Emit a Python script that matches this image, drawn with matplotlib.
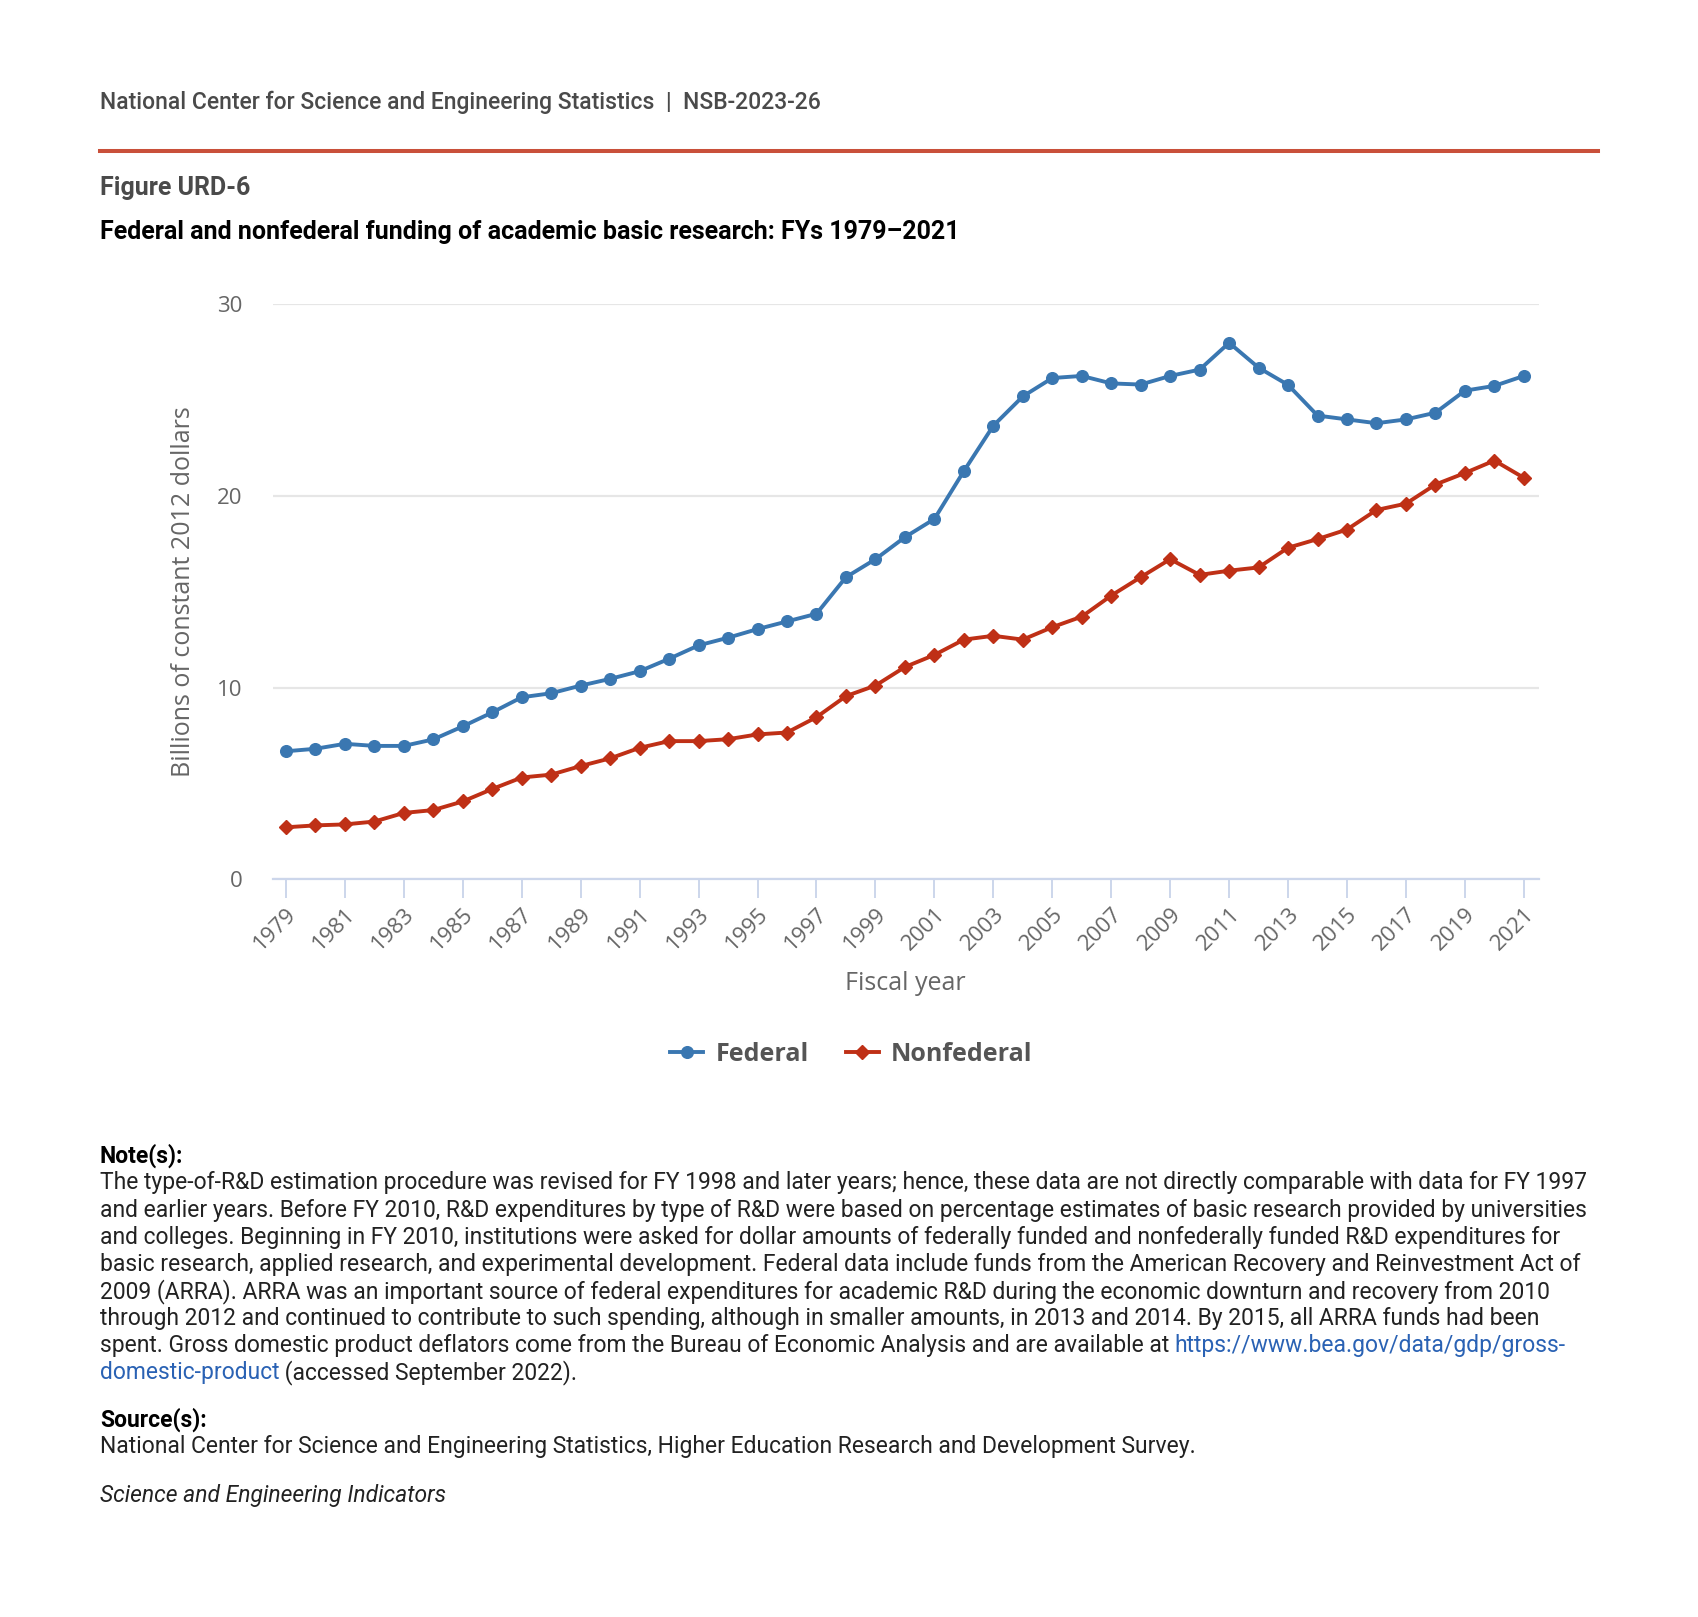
import matplotlib
matplotlib.use("Agg")
import matplotlib.pyplot as plt
from matplotlib.ticker import FixedLocator

# data (billions of constant 2012 dollars)
years = list(range(1979, 2022))
federal = [6.67, 6.80, 7.06, 6.95, 6.95, 7.29, 7.97, 8.70, 9.49, 9.70,
           10.10, 10.45, 10.85, 11.50, 12.20, 12.60, 13.05, 13.45, 13.85, 15.76,
           16.70, 17.85, 18.80, 21.30, 23.67, 25.20, 26.16, 26.27, 25.88, 25.82,
           26.27, 26.60, 28.00, 26.70, 25.80, 24.20, 24.00, 23.80, 24.00, 24.35,
           25.50, 25.75, 26.27]
nonfederal = [2.70, 2.80, 2.85, 3.00, 3.45, 3.60, 4.05, 4.70, 5.30, 5.45,
              5.90, 6.30, 6.85, 7.20, 7.20, 7.30, 7.55, 7.65, 8.45, 9.55,
              10.10, 11.07, 11.70, 12.50, 12.70, 12.50, 13.15, 13.70, 14.80, 15.76,
              16.70, 15.88, 16.10, 16.27, 17.30, 17.75, 18.25, 19.27, 19.60, 20.60,
              21.20, 21.85, 20.95]
tick_years = list(range(1979, 2022, 2))
y_ticks = [0, 10, 20, 30]

W, H = 1699, 1617
fig = plt.figure(figsize=(W / 100, H / 100), dpi=100)


def fy(px):
    # pixel row from top -> figure fraction
    return 1 - (px + 2.5) / H


def fx(px):
    return px / W


BLUE = "#3a77b1"
RED = "#bf3016"

# header
fig.text(fx(100), fy(99.5), "National Center for Science and Engineering Statistics  |  NSB-2023-26",
         family="Roboto", fontweight="medium", fontsize=16.5, color="#4a4a4a", va="center")
fig.add_artist(plt.Line2D([fx(100), fx(1598)], [fy(149), fy(149)], color="#c9503a", lw=2.9))
fig.text(fx(100), fy(185), "Figure URD-6", family="Roboto", fontweight="bold",
         fontsize=18, color="#4a4a4a", va="center")
fig.text(fx(100), fy(229), "Federal and nonfederal funding of academic basic research: FYs 1979\u20132021",
         family="Roboto", fontweight="bold", fontsize=18, color="black", va="center")

# chart
ax = fig.add_axes([fx(272.7), fy(876.5), fx(1538.6) - fx(272.7), fy(302) - fy(876.5)])
ax.plot(years, federal, color=BLUE, lw=2.8, marker="o", ms=8.4, label="Federal", zorder=3)
ax.plot(years, nonfederal, color=RED, lw=2.8, marker="D", ms=6.8, label="Nonfederal", zorder=3)

ax.set_xlim(1978.55, 2021.5)
ax.set_ylim(0, 30)
ax.yaxis.set_major_locator(FixedLocator(y_ticks))
ax.xaxis.set_major_locator(FixedLocator(tick_years))
ax.grid(axis="y", color="#e6e6e6", lw=1.6)
ax.set_axisbelow(True)
for s in ["top", "right", "left"]:
    ax.spines[s].set_visible(False)
ax.spines["bottom"].set_color("#ccd6eb")
ax.spines["bottom"].set_linewidth(1.6)

ax.tick_params(axis="y", length=0, pad=22, labelsize=16, labelcolor="#666666")
ax.tick_params(axis="x", length=13.5, width=1.4, color="#ccd6eb", pad=4,
               labelsize=16, labelcolor="#666666")
for lab in ax.get_yticklabels() + ax.get_xticklabels():
    lab.set_family("Open Sans")
for lab in ax.get_xticklabels():
    lab.set_rotation(45)
    lab.set_ha("right")
    lab.set_rotation_mode("anchor")

ax.set_ylabel("Billions of constant 2012 dollars", family="Open Sans", fontsize=18,
              color="#666666", labelpad=15)
ax.set_xlabel("Fiscal year", family="Open Sans", fontsize=18, color="#666666", labelpad=12)

leg = fig.legend(loc="center", bbox_to_anchor=(fx(851.5), fy(1052)), ncol=2, frameon=False,
                 handlelength=1.3, columnspacing=1.5, handletextpad=0.5,
                 prop={"family": "Open Sans", "weight": "bold", "size": 18})
for t in leg.get_texts():
    t.set_color("#555555")

# notes
note_lines = [
    "The type-of-R&D estimation procedure was revised for FY 1998 and later years; hence, these data are not directly comparable with data for FY 1997",
    "and earlier years. Before FY 2010, R&D expenditures by type of R&D were based on percentage estimates of basic research provided by universities",
    "and colleges. Beginning in FY 2010, institutions were asked for dollar amounts of federally funded and nonfederally funded R&D expenditures for",
    "basic research, applied research, and experimental development. Federal data include funds from the American Recovery and Reinvestment Act of",
    "2009 (ARRA). ARRA was an important source of federal expenditures for academic R&D during the economic downturn and recovery from 2010",
    "through 2012 and continued to contribute to such spending, although in smaller amounts, in 2013 and 2014. By 2015, all ARRA funds had been",
]
link_a = "https://www.bea.gov/data/gdp/gross-"
link_b = "domestic-product"
NOTE_FS = 16.5
note_kw = dict(family="Roboto", fontsize=NOTE_FS, va="center")

fig.text(fx(100), fy(1153), "Note(s):", family="Roboto", fontweight="bold",
         fontsize=NOTE_FS, va="center", color="black")
y0, dy = 1180.5, 27.05
for i, line in enumerate(note_lines):
    fig.text(fx(100), fy(y0 + i * dy), line, color="#222222", **note_kw)

renderer = fig.canvas.get_renderer()
t1 = fig.text(fx(100), fy(y0 + 6 * dy),
              "spent. Gross domestic product deflators come from the Bureau of Economic Analysis and are available at ",
              color="#222222", **note_kw)
x1 = t1.get_window_extent(renderer).x1
fig.text(x1 / W, fy(y0 + 6 * dy), link_a, color="#2a62b4", **note_kw)
t2 = fig.text(fx(100), fy(y0 + 7 * dy), link_b, color="#2a62b4", **note_kw)
x2 = t2.get_window_extent(renderer).x1
fig.text(x2 / W, fy(y0 + 7 * dy), " (accessed September 2022).", color="#222222", **note_kw)

fig.text(fx(100), fy(1417), "Source(s):", family="Roboto", fontweight="bold",
         fontsize=NOTE_FS, va="center", color="black")
fig.text(fx(100), fy(1444),
         "National Center for Science and Engineering Statistics, Higher Education Research and Development Survey.",
         color="#222222", **note_kw)
fig.text(fx(100), fy(1493), "Science and Engineering Indicators", style="italic",
         color="#222222", **note_kw)

fig.savefig("out.png", dpi=100, facecolor="white")
